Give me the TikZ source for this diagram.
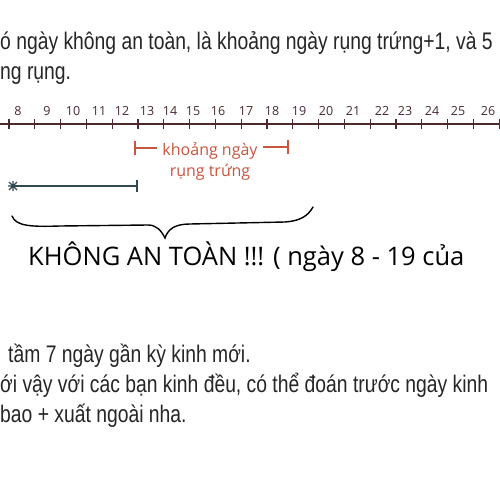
\documentclass[tikz,border=0pt]{standalone}
\usepackage{fontspec}
\setmainfont{Liberation Sans}[FakeStretch=0.805]
\newfontfamily\handfont{Open Sans}
\newfontfamily\numfont{Open Sans}
\definecolor{txt}{HTML}{262626}
\definecolor{lineclr}{HTML}{4A2A2E}
\definecolor{orng}{HTML}{C8553D}
\definecolor{teal}{HTML}{2F4A55}
\tikzset{
  bodytext/.style={anchor=base west, inner sep=0pt, text=txt, font=\fontsize{24}{28}\selectfont},
  numlabel/.style={anchor=base, inner sep=0pt, text=lineclr, font=\numfont\fontsize{12.5}{13}\selectfont},
  tickmark/.style={draw=lineclr, line width=1.1pt},
  numline/.style={draw=lineclr, line width=1.6pt},
  orangeline/.style={draw=orng, line width=1.2pt},
  tealline/.style={draw=teal, line width=1.4pt},
  handtext/.style={anchor=base west, inner sep=0pt, text=black, font=\handfont\fontsize{25.5}{28}\selectfont},
}
\begin{document}
\begin{tikzpicture}[x=1pt,y=-1pt]
\useasboundingbox (0,0) rectangle (500,500);
\fill[white] (0,0) rectangle (500,500);
\clip (0,0) rectangle (500,500);
% top text
\node[bodytext] (t1) at (0,50) {ó ngày không an toàn, là khoảng ngày rụng trứng+1, và 5};
\node[bodytext] (t2) at (0,80) {ng rụng.};
% number line
\coordinate (nlA) at (-5,124);
\coordinate (nlB) at (505,124);
\draw[numline] (nlA) -- (nlB);
\foreach \k in {0,...,19} {
  \pgfmathsetmacro{\xx}{9+25.8*\k}
  \coordinate (tk\k) at (\xx,124);
  \draw[tickmark] ([yshift=-5pt]tk\k) -- ([yshift=5pt]tk\k);
}
\foreach \v/\xx in {8/18,9/47,10/73,11/99,12/122,13/147,14/170,15/193,16/218,17/246,18/272,19/299,20/326,21/353,22/382,23/405,24/432,25/458,26/488} {
  \node[numlabel] (n\v) at (\xx,116) {\v};
}
% orange interval
\coordinate (oL) at (135,148);
\coordinate (oLd) at (157,148);
\coordinate (oRd) at (263,147);
\coordinate (oR) at (288,147);
\draw[orangeline] ([yshift=-7pt]oL) -- ([yshift=7pt]oL);
\draw[orangeline] (oL) -- (oLd);
\draw[orangeline] (oRd) -- (oR);
\draw[orangeline] ([yshift=-7pt]oR) -- ([yshift=7pt]oR);
\node[align=center, inner sep=0pt, text=orng, font=\handfont\fontsize{16}{21}\selectfont] (olab) at (210,161) {khoảng ngày\\rụng trứng};
% teal line
\coordinate (tS) at (13,186);
\coordinate (tE) at (137,186);
\draw[tealline] (tS) -- (tE);
\draw[tealline] ([yshift=-6pt]tE) -- ([yshift=6pt]tE);
\draw[tealline, line width=1.2pt] ([shift={(-5,0)}]tS) -- ([shift={(5,0)}]tS)
  ([shift={(-4,-4)}]tS) -- ([shift={(4,4)}]tS)
  ([shift={(-4,4)}]tS) -- ([shift={(4,-4)}]tS)
  ([shift={(0,-5)}]tS) -- ([shift={(0,5)}]tS);
% brace
\coordinate (bL) at (12,216);
\coordinate (bT) at (165,238);
\coordinate (bR) at (313,207);
\draw[line width=1.4pt, line cap=round] (bL) .. controls (16,226) and (30,227) .. (60,226)
  -- (148,225) .. controls (156,225) and (161,230) .. (bT)
  .. controls (168,229) and (175,224) .. (190,224)
  -- (285,222) .. controls (300,221) and (308,216) .. (bR);
\node[handtext] (warn) at (28,265) {KHÔNG AN TOÀN !!! ( ngày 8 - 19 của};
% bottom text
\node[bodytext] (b1) at (8,362) {tầm 7 ngày gần kỳ kinh mới.};
\node[bodytext] (b2) at (0,392) {ới vậy với các bạn kinh đều, có thể đoán trước ngày kinh};
\node[bodytext] (b3) at (0,422) {bao + xuất ngoài nha.};
\end{tikzpicture}
\end{document}
